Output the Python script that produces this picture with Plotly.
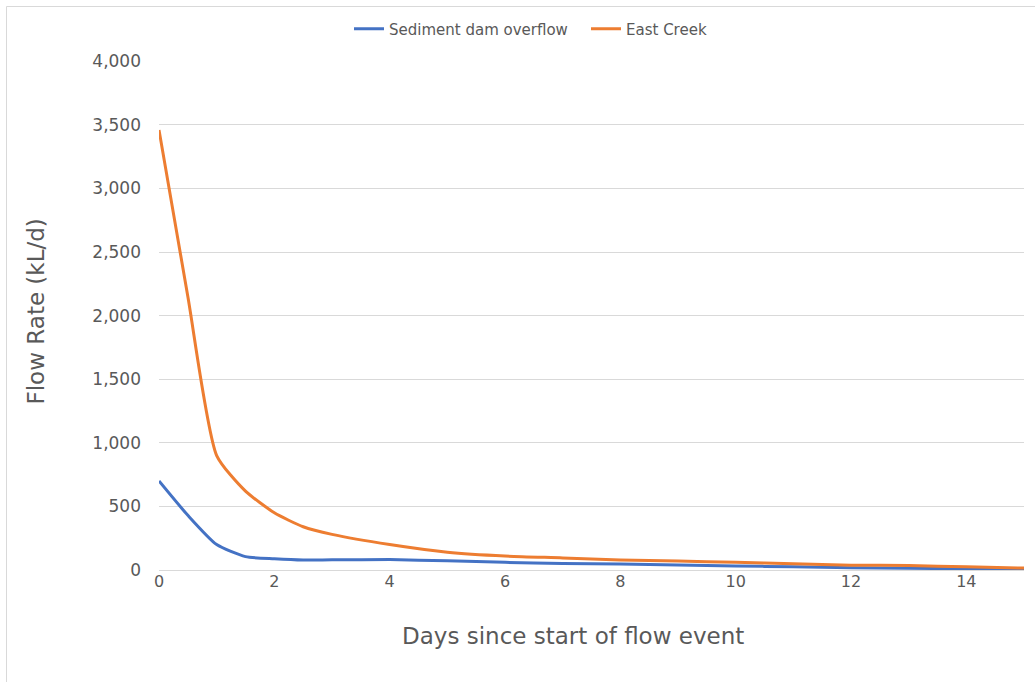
import plotly.graph_objects as go

# Flow monitoring data (days since start, flow rate in kL/d)
days = [0, 0.5, 1, 1.5, 2, 2.5, 3, 4, 5, 6, 7, 8, 9, 10, 11, 12, 13, 14, 15]
sediment_dam = [700, 430, 200, 105, 88, 78, 80, 82, 72, 60, 52, 47, 40, 32, 25, 18, 14, 9, 5]
east_creek = [3460, 2150, 900, 620, 450, 340, 280, 200, 140, 110, 95, 78, 70, 60, 50, 38, 35, 25, 15]

x_ticks = [0, 2, 4, 6, 8, 10, 12, 14]
y_ticks = [0, 500, 1000, 1500, 2000, 2500, 3000, 3500, 4000]

FONT = "DejaVu Sans"
TEXT = "#595959"
GRID = "#d9d9d9"

W, H = 1035, 682
ML, MR, MT, MB = 159, 11, 61, 112
PW, PH = W - ML - MR, H - MT - MB


def px_x(p):
    """Pixel column -> paper x."""
    return (p - ML) / PW


def px_y(p):
    """Pixel row -> paper y."""
    return (H - MB - p) / PH


fig = go.Figure()
fig.add_trace(go.Scatter(
    x=days, y=sediment_dam, mode="lines", name="Sediment dam overflow",
    line=dict(color="#4472C4", width=3, shape="spline", smoothing=0.6),
    legend="legend",
))
fig.add_trace(go.Scatter(
    x=days, y=east_creek, mode="lines", name="East Creek",
    line=dict(color="#ED7D31", width=3, shape="spline", smoothing=0.6),
    legend="legend2",
))

# light frame around the chart area (top and left edges visible)
fig.add_shape(
    type="rect", xref="paper", yref="paper",
    x0=px_x(6.5), x1=px_x(W + 5),
    y0=px_y(H + 5), y1=px_y(6.5),
    line=dict(color="#d9d9d9", width=1), fillcolor="rgba(0,0,0,0)", layer="below",
)

# axis titles
title_font = dict(size=23, color=TEXT, family=FONT)
fig.add_annotation(
    text="Days since start of flow event", xref="paper", yref="paper",
    x=px_x(572.5), y=px_y(636), xanchor="center", yanchor="middle",
    showarrow=False, font=title_font,
)
fig.add_annotation(
    text="Flow Rate (kL/d)", xref="paper", yref="paper",
    x=px_x(35), y=px_y(311.5), xanchor="center", yanchor="middle",
    textangle=-90, showarrow=False, font=title_font,
)

legend_common = dict(
    orientation="h", xanchor="left", yanchor="middle", y=px_y(29),
    font=dict(size=15, color=TEXT, family=FONT), bgcolor="rgba(0,0,0,0)",
)

fig.update_layout(
    width=W, height=H,
    margin=dict(l=ML, r=MR, t=MT, b=MB),
    paper_bgcolor="white", plot_bgcolor="white",
    font=dict(family=FONT, color=TEXT),
    showlegend=True,
    legend=dict(x=px_x(349), **legend_common),
    legend2=dict(x=px_x(586), **legend_common),
    xaxis=dict(
        range=[0, 15], tickvals=x_ticks, showgrid=False, zeroline=False,
        showline=False, ticks="",
        tickfont=dict(size=16, color=TEXT, family=FONT),
    ),
    yaxis=dict(
        range=[0, 4002], tickvals=y_ticks, tickformat=",d",
        showgrid=True, gridcolor=GRID, gridwidth=1,
        zeroline=True, zerolinecolor=GRID, zerolinewidth=1,
        showline=False, ticks="", ticklabelstandoff=17,
        tickfont=dict(size=17, color=TEXT, family=FONT),
    ),
)

fig.write_html("out.html")
